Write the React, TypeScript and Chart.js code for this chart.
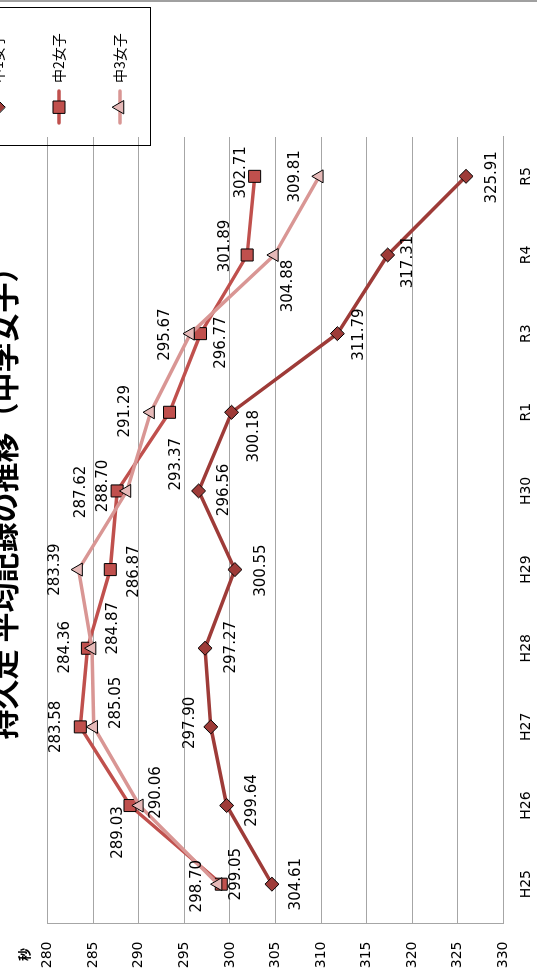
import React, { useEffect, useRef } from 'react';
import { Chart, registerables } from 'chart.js';

Chart.register(...registerables);

// ---- data ----
const categories = ['H25', 'H26', 'H27', 'H28', 'H29', 'H30', 'R1', 'R3', 'R4', 'R5'];
const seriesNames = ['中1女子', '中2女子', '中3女子'];
const girls1 = [304.61, 299.64, 297.9, 297.27, 300.55, 296.56, 300.18, 311.79, 317.31, 325.91];
const girls2 = [299.05, 289.03, 283.58, 284.36, 286.87, 287.62, 293.37, 296.77, 301.89, 302.71];
const girls3 = [298.7, 290.06, 285.05, 284.87, 283.39, 288.7, 291.29, 295.67, 304.88, 309.81];
const yMin = 280;
const yMax = 330;
const yStep = 5;
const titleText = '持久走 平均記録の推移（中学女子）';
const unitText = '秒';

// ---- layout / style ----
const W = 978; // chart width (before rotation)
const H = 570; // chart height (before rotation)
const HIDDEN = 33; // top strip cut off by the page edge
const COLORS = ['#9E3B38', '#C0504D', '#D99694'];
const MARKER_FILL = ['#9E3B38', '#C0504D', '#E6B9B8'];
const POINT_STYLES = ['rectRot', 'rect', 'triangle'];
const POINT_RADII = [7, 8.5, 7.5];
// data label offsets (dx, dy) relative to each point
const LABEL_OFFSETS = [
  [[0, 24], [5, 25], [4, -21], [1, 26], [-1, 26], [1, 26], [-24, 23], [-1, 22], [-7, 20], [-1, 26]],
  [[10, 15], [-27, -12], [0, -24], [1, -22], [-2, 24], [-1, -36], [-52, 7], [-9, 21], [9, -22], [4, -14]],
  [[-2, -21], [13, 17], [24, 22], [20, 21], [0, -23], [5, -24], [1, -25], [-1, -25], [-31, 14], [0, -24]],
];
const AREA = { left: 54.5, right: 841, top: 80.7, bottom: 536.3 };
const NUM_FONT = '"DejaVu Sans", "Noto Sans CJK JP", sans-serif';
const CJK_FONT = '"Noto Sans CJK JP", "DejaVu Sans", sans-serif';

function drawMarker(ctx: CanvasRenderingContext2D, style: string, x: number, y: number, r: number) {
  ctx.beginPath();
  if (style === 'rect') {
    const s = Math.SQRT1_2 * r;
    ctx.rect(x - s, y - s, 2 * s, 2 * s);
  } else if (style === 'rectRot') {
    ctx.moveTo(x - r, y);
    ctx.lineTo(x, y - r);
    ctx.lineTo(x + r, y);
    ctx.lineTo(x, y + r);
    ctx.closePath();
  } else {
    let a = 0;
    ctx.moveTo(x + Math.sin(a) * r, y - Math.cos(a) * r);
    a += (2 * Math.PI) / 3;
    ctx.lineTo(x + Math.sin(a) * r, y - Math.cos(a) * r);
    a += (2 * Math.PI) / 3;
    ctx.lineTo(x + Math.sin(a) * r, y - Math.cos(a) * r);
    ctx.closePath();
  }
  ctx.fill();
  ctx.stroke();
}

const overlayPlugin = {
  id: 'overlay',
  afterDatasetsDraw(chart: any) {
    const ctx: CanvasRenderingContext2D = chart.ctx;
    ctx.save();
    ctx.font = `15px ${NUM_FONT}`;
    ctx.fillStyle = '#000';
    ctx.textAlign = 'center';
    ctx.textBaseline = 'middle';
    chart.data.datasets.forEach((ds: any, di: number) => {
      const meta = chart.getDatasetMeta(di);
      meta.data.forEach((pt: any, i: number) => {
        const [dx, dy] = LABEL_OFFSETS[di][i];
        ctx.fillText(Number(ds.data[i]).toFixed(2), pt.x + dx, pt.y + dy);
      });
    });
    ctx.restore();
  },
  afterDraw(chart: any) {
    const ctx: CanvasRenderingContext2D = chart.ctx;
    ctx.save();
    // title
    ctx.fillStyle = '#000';
    ctx.font = `bold 30px ${CJK_FONT}`;
    ctx.textAlign = 'center';
    ctx.textBaseline = 'middle';
    ctx.fillText(titleText, 482, 37);
    // unit
    ctx.font = `bold 13px ${CJK_FONT}`;
    ctx.fillText(unitText, 23.5, 57);
    // legend box
    ctx.strokeStyle = '#000';
    ctx.lineWidth = 1;
    ctx.strokeRect(832.5, 0.5, 138, 183);
    const itemY = [31, 92, 153];
    seriesNames.forEach((name, i) => {
      const y = itemY[i];
      ctx.strokeStyle = COLORS[i];
      ctx.lineWidth = 3.5;
      ctx.lineCap = 'round';
      ctx.beginPath();
      ctx.moveTo(855, y);
      ctx.lineTo(887, y);
      ctx.stroke();
      ctx.fillStyle = MARKER_FILL[i];
      ctx.strokeStyle = '#000';
      ctx.lineWidth = 1;
      drawMarker(ctx, POINT_STYLES[i], 871, y, POINT_RADII[i]);
      ctx.fillStyle = '#000';
      ctx.font = `14px ${CJK_FONT}`;
      ctx.textAlign = 'left';
      ctx.textBaseline = 'middle';
      ctx.fillText(name, 895, y);
    });
    // outer border (right edge)
    ctx.strokeStyle = '#A0A0A0';
    ctx.lineWidth = 2;
    ctx.beginPath();
    ctx.moveTo(977, 0);
    ctx.lineTo(977, H);
    ctx.stroke();
    ctx.restore();
  },
};

export default function App() {
  const ref = useRef<HTMLCanvasElement | null>(null);
  useEffect(() => {
    if (!ref.current) return;
    const series = [girls1, girls2, girls3];
    const chart = new Chart(ref.current, {
      type: 'line',
      data: {
        labels: categories,
        datasets: series.map((d, i) => ({
          label: seriesNames[i],
          data: d,
          borderColor: COLORS[i],
          backgroundColor: MARKER_FILL[i],
          borderWidth: 3.5,
          tension: 0,
          pointStyle: POINT_STYLES[i] as any,
          pointRadius: POINT_RADII[i],
          pointHoverRadius: POINT_RADII[i],
          pointBackgroundColor: MARKER_FILL[i],
          pointBorderColor: '#000',
          pointBorderWidth: 1,
          order: 3 - i,
          clip: false as any,
        })),
      },
      options: {
        animation: false,
        responsive: false,
        devicePixelRatio: 1,
        events: [],
        layout: {
          autoPadding: false,
          padding: { left: 0, top: AREA.top, right: W - AREA.right, bottom: 0 },
        },
        plugins: {
          legend: { display: false },
          title: { display: false },
          tooltip: { enabled: false },
        },
        scales: {
          x: {
            type: 'category',
            offset: true,
            grid: { display: false, drawTicks: false },
            border: { display: true, color: '#A6A6A6', width: 1 },
            ticks: {
              color: '#000',
              font: { family: NUM_FONT, size: 14 },
              padding: 15,
              maxRotation: 0,
              autoSkip: false,
            },
            afterFit: (s: any) => {
              s.height = H - AREA.bottom;
            },
          },
          y: {
            type: 'linear',
            min: yMin,
            max: yMax,
            reverse: true,
            grid: { color: '#A6A6A6', lineWidth: 1, drawTicks: false },
            border: { display: true, color: '#A6A6A6', width: 1 },
            ticks: {
              stepSize: yStep,
              color: '#000',
              font: { family: NUM_FONT, size: 14 },
              padding: 18,
            },
            afterFit: (s: any) => {
              s.width = AREA.left;
            },
          },
        },
      },
      plugins: [overlayPlugin],
    } as any);
    return () => chart.destroy();
  }, []);

  return (
    <div style={{ position: 'fixed', left: 0, top: 0, width: 537, height: 978, overflow: 'hidden', background: '#fff' }}>
      <div
        style={{
          position: 'absolute',
          left: -HIDDEN,
          top: 978,
          width: W,
          height: H,
          transform: 'rotate(-90deg)',
          transformOrigin: '0 0',
        }}
      >
        <canvas ref={ref} width={W} height={H} style={{ width: W, height: H, display: 'block' }} />
      </div>
    </div>
  );
}
